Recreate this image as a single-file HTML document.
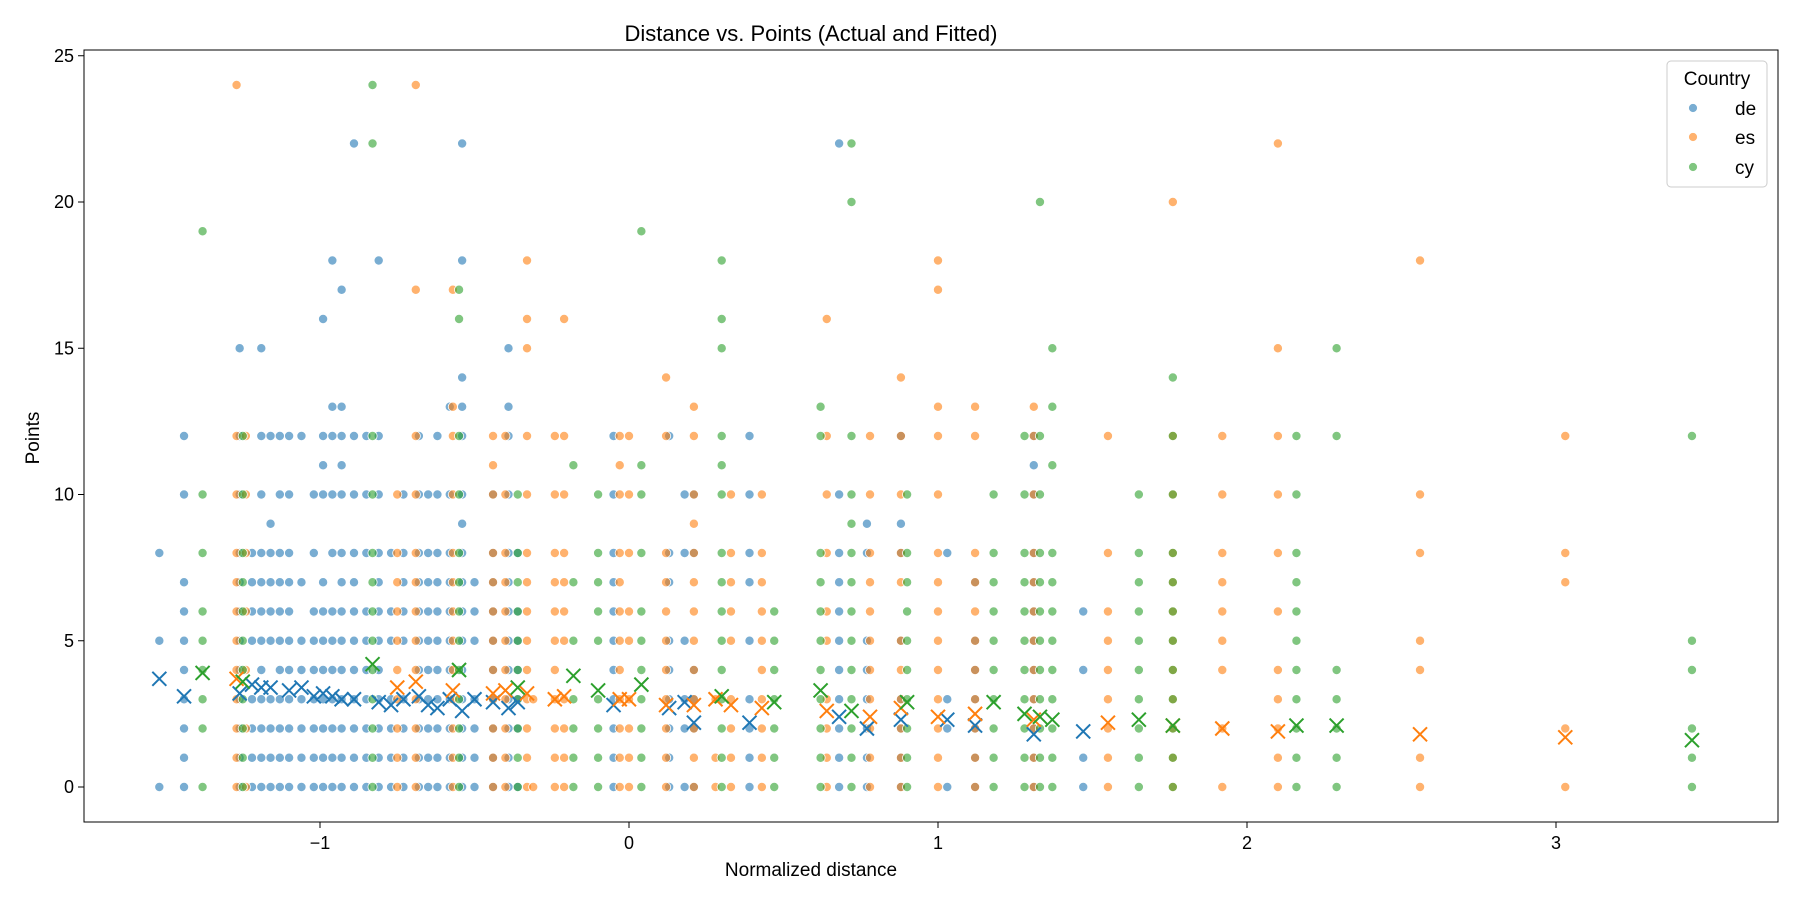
<!DOCTYPE html>
<html><head><meta charset="utf-8"><style>
html,body{margin:0;padding:0;background:#fff;}
svg{display:block;font-family:"Liberation Sans","DejaVu Sans",sans-serif;}
</style></head><body>
<svg id="chart" width="1800" height="900" viewBox="0 0 1800 900" xmlns="http://www.w3.org/2000/svg">
<rect x="0" y="0" width="1800" height="900" fill="#fff"/>
<text x="811" y="41" font-size="22" text-anchor="middle" fill="#000">Distance vs. Points (Actual and Fitted)</text>
<text x="811" y="876" font-size="19" text-anchor="middle" fill="#000">Normalized distance</text>
<text x="0" y="0" font-size="19" text-anchor="middle" fill="#000" transform="translate(39,438) rotate(-90)">Points</text>
<g id="grid"></g>
<g id="marks"></g>
<rect x="84" y="50" width="1694" height="772" fill="none" stroke="#000" stroke-width="1"/>
<g id="legend">
<rect x="1667" y="61" width="100" height="126" rx="4" fill="#fff" fill-opacity="0.8" stroke="#ccc"/>
<text x="1717" y="85" font-size="19" text-anchor="middle">Country</text>
<circle cx="1693" cy="108" r="4.5" fill="#1f77b4" fill-opacity="0.6" stroke="#fff" stroke-width="0.8"/>
<text x="1735" y="115" font-size="19">de</text>
<circle cx="1693" cy="137" r="4.5" fill="#ff7f0e" fill-opacity="0.6" stroke="#fff" stroke-width="0.8"/>
<text x="1735" y="144" font-size="19">es</text>
<circle cx="1693" cy="167" r="4.5" fill="#2ca02c" fill-opacity="0.6" stroke="#fff" stroke-width="0.8"/>
<text x="1735" y="174" font-size="19">cy</text>
</g>
</svg>
<script>
const xTicks = [-1, 0, 1, 2, 3];
const xTickLabels = ["\u22121", "0", "1", "2", "3"];
const yTicks = [0, 5, 10, 15, 20, 25];

const deColX = [-1.52,-1.44,-1.26,-1.22,-1.19,-1.16,-1.13,-1.10,-1.06,-1.02,-0.99,-0.96,-0.93,-0.89,-0.85,-0.81,-0.77,-0.73,-0.68,-0.65,-0.62,-0.58,-0.54,-0.5,-0.44,-0.39,-0.36,-0.05,0.13,0.18,0.21,0.39,0.68,0.77,0.88,1.03,1.12,1.31,1.47];
const deColY = [[0,5,8],[0,1,2,3,4,5,6,7,10,12],[0,1,2,3,4,5,6,7,8,10,12,15],[0,1,2,3,5,6,7,8],[0,1,2,3,4,5,6,7,8,10,12,15],[0,1,2,3,5,6,7,8,9,12],[0,1,2,3,4,5,6,7,8,10,12],[0,1,2,3,4,5,6,7,8,10,12],[0,1,2,3,4,5,7,12],[0,1,2,3,4,5,6,8,10],[0,1,2,3,4,5,6,7,10,11,12,16],[0,1,2,3,4,5,6,8,10,12,13,18],[0,1,2,3,4,5,6,7,8,10,11,12,13,17],[0,1,2,3,4,5,6,7,8,10,12,22],[0,1,2,3,4,5,6,8,10,12],[0,1,2,3,4,5,6,7,8,10,12,18],[0,1,2,3,5,6,8],[0,1,2,3,5,6,7,8,10],[0,1,2,3,4,5,6,7,8,10,12],[0,1,2,3,4,5,6,7,8,10],[0,1,2,3,4,5,6,7,8,10,12],[0,1,2,3,4,5,6,7,8,10,13],[0,1,2,3,4,5,6,7,8,9,10,12,13,14,18,22],[0,1,2,3,5,6,7],[0,1,2,3,4,5,6,7,8,10],[0,1,2,3,4,5,6,7,8,10,12,13,15],[0,2,3,4,5,6,8],[0,1,2,3,4,5,6,7,8,10,12],[0,1,2,3,4,5,7,8,12],[0,2,3,5,8,10],[0,2,3,4,8,10],[0,1,2,3,5,7,8,10,12],[0,1,2,3,4,5,6,7,8,10,22],[0,1,2,3,4,5,8,9],[0,1,2,3,5,8,9,12],[0,2,3,8],[0,1,2,3,4,5,7],[0,1,2,3,4,5,6,7,8,10,11,12],[0,1,4,6]];

const esColX = [-1.27,-1.24,-0.75,-0.69,-0.57,-0.44,-0.40,-0.33,-0.31,-0.24,-0.21,-0.03,0.0,0.12,0.21,0.28,0.33,0.43,0.64,0.78,0.88,1.0,1.12,1.31,1.55,1.76,1.92,2.10,2.56,3.03];
const esColY = [[0,1,2,3,4,5,6,7,8,10,12,24],[0,2,4,6,8,10,12],[0,1,2,3,4,5,6,7,8,10],[0,1,2,3,4,5,6,7,8,10,12,17,24],[0,1,2,3,4,5,6,7,8,10,12,13,17],[0,1,2,3,4,5,6,7,8,10,11,12],[0,1,2,3,4,5,6,7,8,10,12],[0,1,2,3,4,5,6,7,8,10,12,15,16,18],[0,3],[0,1,2,3,4,5,6,7,8,10,12],[0,1,2,3,5,6,7,8,10,12,16],[0,1,2,3,4,5,6,7,8,10,11,12],[0,1,2,3,5,6,8,10,12],[0,1,2,3,4,5,6,7,8,12,14],[0,1,2,3,4,5,6,7,8,9,10,12,13],[0,1,3],[0,1,2,3,5,6,7,8,10],[0,1,2,3,4,5,6,7,8,10],[0,1,2,3,5,6,8,10,12,16],[0,1,2,3,4,5,6,7,8,10,12],[0,1,2,3,4,5,7,8,10,12,14],[0,1,2,3,4,5,6,7,8,10,12,13,17,18],[0,1,2,3,4,5,6,7,8,12,13],[0,1,2,3,4,5,6,7,8,10,12,13],[0,1,2,3,4,5,6,8,12],[0,1,2,3,4,5,6,7,8,10,12,20],[0,2,4,5,6,7,8,10,12],[0,1,2,3,4,6,8,10,12,15,22],[0,1,4,5,8,10,18],[0,2,7,8,12]];

const cyColX = [-1.38,-1.25,-0.83,-0.55,-0.36,-0.18,-0.1,0.04,0.3,0.47,0.62,0.72,0.9,1.18,1.28,1.33,1.37,1.65,1.76,2.16,2.29,3.44];
const cyColY = [[0,2,3,4,5,6,8,10,19],[0,1,2,3,4,5,6,7,8,10,12],[0,1,2,3,4,5,6,7,8,10,12,22,24],[0,1,2,3,4,5,6,7,8,10,12,16,17],[0,1,2,3,4,5,6,7,8,10],[0,1,2,3,5,7,11],[0,1,2,3,5,6,7,8,10],[0,1,2,3,4,5,6,8,10,11,19],[0,1,2,3,4,5,6,7,8,10,11,12,15,16,18],[0,1,2,3,4,5,6],[0,1,2,3,4,5,6,7,8,12,13],[0,1,2,3,4,5,6,7,8,9,10,12,20,22],[0,1,2,3,4,5,6,7,8,10],[0,1,2,3,4,5,6,7,8,10],[0,1,2,3,4,5,6,7,8,10,12],[0,1,2,3,4,5,6,7,8,10,12,20],[0,1,2,3,4,5,6,7,8,11,13,15],[0,1,2,3,4,5,6,7,8,10],[0,1,2,3,4,5,6,7,8,10,12,14],[0,1,2,3,4,5,6,7,8,10,12],[0,1,2,3,4,12,15],[0,1,2,4,5,12]];

const deFitX = [-1.52,-1.44,-1.26,-1.22,-1.19,-1.16,-1.10,-1.06,-1.02,-0.99,-0.96,-0.93,-0.89,-0.81,-0.77,-0.73,-0.68,-0.65,-0.62,-0.58,-0.54,-0.5,-0.44,-0.39,-0.36,-0.05,0.13,0.18,0.21,0.39,0.68,0.77,0.88,1.03,1.12,1.31,1.47];
const deFitY = [3.7,3.1,3.2,3.5,3.4,3.4,3.3,3.4,3.1,3.2,3.1,3.0,3.0,2.9,2.8,3.0,3.1,2.8,2.7,3.0,2.6,3.0,2.9,2.7,2.9,2.8,2.7,2.9,2.2,2.2,2.4,2.0,2.3,2.3,2.1,1.8,1.9];
const esFitX = [-1.27,-0.75,-0.69,-0.57,-0.44,-0.40,-0.33,-0.24,-0.21,-0.03,0.0,0.12,0.21,0.28,0.33,0.43,0.64,0.78,0.88,1.0,1.12,1.31,1.55,1.76,1.92,2.10,2.56,3.03];
const esFitY = [3.7,3.4,3.6,3.3,3.2,3.3,3.2,3.0,3.1,3.0,3.0,2.8,2.8,3.0,2.8,2.7,2.6,2.4,2.7,2.4,2.5,2.3,2.2,2.1,2.0,1.9,1.8,1.7];
const cyFitX = [-1.38,-1.25,-0.83,-0.55,-0.36,-0.18,-0.1,0.04,0.3,0.47,0.62,0.72,0.9,1.18,1.28,1.33,1.37,1.65,1.76,2.16,2.29,3.44];
const cyFitY = [3.9,3.6,4.2,4.0,3.4,3.8,3.3,3.5,3.1,2.9,3.3,2.6,2.9,2.9,2.5,2.4,2.3,2.3,2.1,2.1,2.1,1.6];

const NS = "http://www.w3.org/2000/svg";
const xs = v => 629 + v * 309;
const ys = v => 787 - v * 29.25;
const grid = document.getElementById('grid');
const marks = document.getElementById('marks');
function mk(tag, attrs, parent) {
  const el = document.createElementNS(NS, tag);
  for (const k in attrs) el.setAttribute(k, attrs[k]);
  parent.appendChild(el);
  return el;
}
xTicks.forEach((t, i) => {
  const g = mk('g', {}, grid);
  
  
  mk('line', {x1: xs(t), x2: xs(t), y1: 822, y2: 828, stroke: '#000'}, g);
  const tx = mk('text', {x: xs(t), y: 849, 'font-size': 18, 'text-anchor': 'middle'}, g);
  tx.textContent = xTickLabels[i];
});
yTicks.forEach(t => {
  const g = mk('g', {}, grid);
  
  
  mk('line', {x1: 78, x2: 84, y1: ys(t), y2: ys(t), stroke: '#000'}, g);
  const tx = mk('text', {x: 74, y: ys(t) + 6, 'font-size': 18, 'text-anchor': 'end'}, g);
  tx.textContent = String(t);
});
function scatter(cx, cy, color, name) {
  cx.forEach((x, i) => {
    cy[i].forEach(y => {
      const c = mk('circle', {cx: xs(x), cy: ys(y), r: 4.6, fill: color, 'fill-opacity': 0.6, stroke: '#fff', 'stroke-width': 0.8}, marks);
      
      
    });
  });
}
function fits(fx, fy, color, name) {
  fx.forEach((x, i) => {
    const X = xs(x), Y = ys(fy[i]), s = 7;
    const p = mk('path', {d: `M${X-s},${Y-s}L${X+s},${Y+s}M${X-s},${Y+s}L${X+s},${Y-s}`, stroke: color, 'stroke-width': 2, fill: 'none'}, marks);
    
    
  });
}
scatter(deColX, deColY, '#1f77b4', 'de');
scatter(esColX, esColY, '#ff7f0e', 'es');
scatter(cyColX, cyColY, '#2ca02c', 'cy');
fits(deFitX, deFitY, '#1f77b4', 'de');
fits(esFitX, esFitY, '#ff7f0e', 'es');
fits(cyFitX, cyFitY, '#2ca02c', 'cy');
</script>
</body></html>
